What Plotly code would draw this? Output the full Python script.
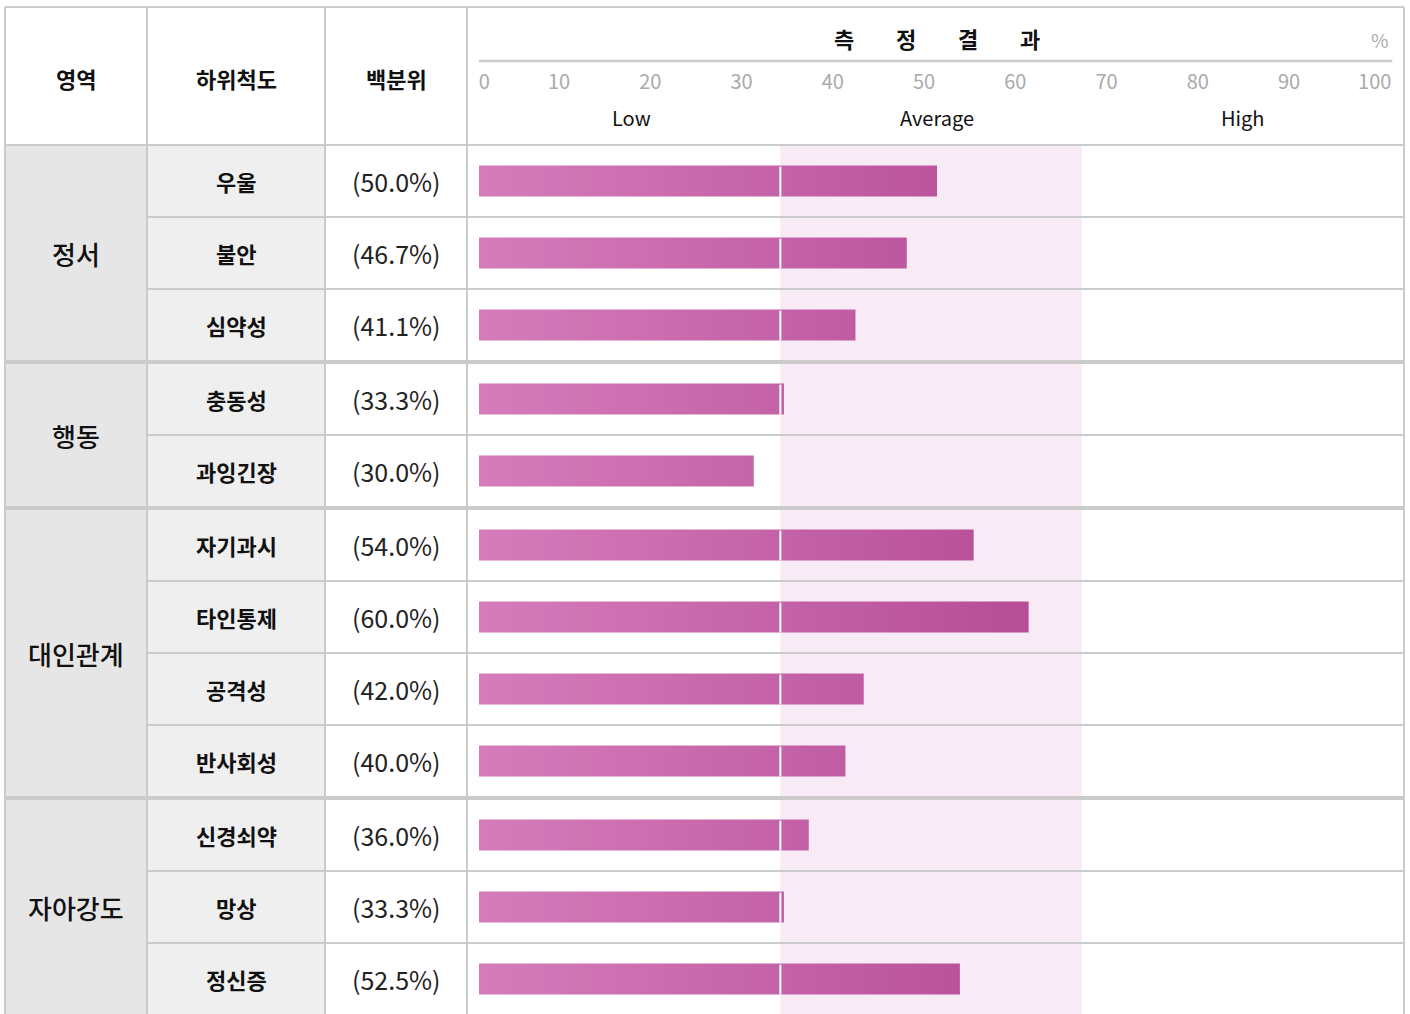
import plotly.graph_objects as go

# ---------------- data ----------------
domains = ["정서", "행동", "대인관계", "자아강도"]
group_sizes = [3, 2, 4, 3]
subscales = ["우울", "불안", "심약성", "충동성", "과잉긴장", "자기과시",
             "타인통제", "공격성", "반사회성", "신경쇠약", "망상", "정신증"]
percentiles = [50.0, 46.7, 41.1, 33.3, 30.0, 54.0, 60.0, 42.0, 40.0, 36.0, 33.3, 52.5]
tick_values = [0, 10, 20, 30, 40, 50, 60, 70, 80, 90, 100]
level_labels = ["Low", "Average", "High"]
level_centers = [100 / 6, 50, 500 / 6]
avg_range = [33, 66]
col_headers = ["영역", "하위척도", "백분위"]
result_title = ["측", "정", "결", "과"]

# ---------------- layout constants (pixels) ----------------
W, H = 1410, 1014
FONT = "Noto Sans CJK KR"
ROW_PX, TOP_PX, GAP_PX = 72, 145, 2
COL_X = [5, 147, 325, 467, 1404]         # column borders
BAR_X0, BAR_X100 = 479, 1395             # 0% and 100% of bar scale
TABLE_TOP = 7
BORDER = "#cbcbcb"
BAR_H = 0.43
FS = "\u2007"  # figure space (digit width) used to align edge tick labels


def px(p):
    return p / W


def py(p):
    return 1 - p / H


# row positions (row units, groups separated by thicker border)
groups = []
for g, n in enumerate(group_sizes):
    groups += [g] * n
gap = GAP_PX / ROW_PX
row_y = [i + groups[i] * gap for i in range(len(subscales))]

y_top = -TOP_PX / ROW_PX - 0.5
y_bot = (H - TOP_PX) / ROW_PX - 0.5

fig = go.Figure()

# bars with a horizontal position-based gradient
bx, by = [], []
for v, yc in zip(percentiles, row_y):
    y0, y1 = yc - BAR_H / 2, yc + BAR_H / 2
    bx += [0, v, v, 0, 0, None]
    by += [y0, y0, y1, y1, y0, None]
fig.add_trace(go.Scatter(
    x=bx, y=by, mode="lines", fill="toself", line=dict(width=0, color="rgba(0,0,0,0)"),
    fillgradient=dict(type="horizontal", start=0, stop=100,
                      colorscale=[[0, "#d57cbb"], [1, "#a22e7e"]]),
    hoverinfo="skip", showlegend=False))

# white separator where bars cross into the average band
sx, sy = [], []
for v, yc in zip(percentiles, row_y):
    if v > avg_range[0]:
        sx += [avg_range[0] - 0.1, avg_range[0] - 0.1, None]
        sy += [yc - BAR_H / 2 + 0.015, yc + BAR_H / 2, None]
fig.add_trace(go.Scatter(x=sx, y=sy, mode="lines", line=dict(color="white", width=2),
                         hoverinfo="skip", showlegend=False))

# dummy trace for the tick-label axis
fig.add_trace(go.Scatter(x=[None], y=[None], xaxis="x2", yaxis="y", showlegend=False,
                         hoverinfo="skip"))

shapes = []
# backgrounds of first two columns
row_area_top = -0.5
shapes.append(dict(type="rect", xref="paper", yref="y", x0=px(COL_X[0]), x1=px(COL_X[1]),
                   y0=row_area_top, y1=y_bot + 1, fillcolor="#e6e6e6", line_width=0, layer="below"))
shapes.append(dict(type="rect", xref="paper", yref="y", x0=px(COL_X[1]), x1=px(COL_X[2]),
                   y0=row_area_top, y1=y_bot + 1, fillcolor="#efefef", line_width=0, layer="below"))
# average band
shapes.append(dict(type="rect", xref="x", yref="y", x0=avg_range[0] - 0.1, x1=avg_range[1] - 0.2,
                   y0=row_area_top, y1=y_bot + 1, fillcolor="#f8ebf6", line_width=0, layer="below"))

# horizontal borders
shapes.append(dict(type="line", xref="paper", yref="paper", x0=px(COL_X[0]), x1=px(COL_X[-1]),
                   y0=py(TABLE_TOP), y1=py(TABLE_TOP), line=dict(color=BORDER, width=2)))
shapes.append(dict(type="line", xref="paper", yref="y", x0=px(COL_X[0]), x1=px(COL_X[-1]),
                   y0=row_area_top, y1=row_area_top, line=dict(color=BORDER, width=2)))
for i in range(1, len(subscales)):
    if groups[i] != groups[i - 1]:
        yb = row_y[i] - 0.5 - gap / 2
        shapes.append(dict(type="line", xref="paper", yref="y", x0=px(COL_X[0]), x1=px(COL_X[-1]),
                           y0=yb, y1=yb, line=dict(color=BORDER, width=4)))
    else:
        yb = row_y[i] - 0.5
        shapes.append(dict(type="line", xref="paper", yref="y", x0=px(COL_X[1]), x1=px(COL_X[-1]),
                           y0=yb, y1=yb, line=dict(color=BORDER, width=2)))
# vertical borders
for cx in COL_X:
    shapes.append(dict(type="line", xref="paper", yref="paper", x0=px(cx), x1=px(cx),
                       y0=py(TABLE_TOP), y1=0, line=dict(color=BORDER, width=2)))
# header underline of result title
shapes.append(dict(type="line", xref="x", yref="paper", x0=0, x1=99.7,
                   y0=py(61), y1=py(61), line=dict(color=BORDER, width=2.5)))


def ann(text, x, y, xref, yref, size, color="#111", weight="normal", xanchor="center"):
    return dict(text=text, x=x, y=y, xref=xref, yref=yref, showarrow=False,
                xanchor=xanchor, yanchor="middle",
                font=dict(family=FONT, size=size, color=color, weight=weight))


annotations = []
col_centers = [(COL_X[k] + COL_X[k + 1]) / 2 for k in range(3)]
for txt, cx in zip(col_headers, col_centers):
    annotations.append(ann(txt, px(cx), py(78), "paper", "paper", 22, weight="bold"))
for k, ch in enumerate(result_title):
    annotations.append(ann(ch, 50 + (k - 1.5) * 6.8, py(38), "x", "paper", 22, weight="bold"))
annotations.append(ann("%", 99.6, py(40), "x", "paper", 19, color="#aaaaaa", xanchor="right"))
for lab, c in zip(level_labels, level_centers):
    annotations.append(ann(lab, c, py(117), "x", "paper", 20))
# group labels
start = 0
for name, n in zip(domains, group_sizes):
    yc = sum(row_y[start:start + n]) / n
    annotations.append(ann(name, px(col_centers[0]), yc, "paper", "y", 26, weight=500))
    start += n
for name, v, yc in zip(subscales, percentiles, row_y):
    annotations.append(ann(name, px(col_centers[1]), yc, "paper", "y", 22, weight="bold"))
    annotations.append(ann(f"({v:.1f}%)", px(col_centers[2]), yc, "paper", "y", 25, color="#222"))

# tick labels: spread evenly, first left-aligned and last right-aligned in the header
tick_text = [str(v) for v in tick_values]
tick_text[0] = FS * 3 + tick_text[0]
tick_text[-1] = tick_text[-1] + FS

lab0, lab_step = 467.75, 9.125
d0, d1 = 440, 1405
fig.update_layout(
    width=W, height=H, margin=dict(l=0, r=0, t=0, b=0),
    paper_bgcolor="white", plot_bgcolor="rgba(0,0,0,0)",
    xaxis=dict(domain=[px(BAR_X0), px(BAR_X100)], range=[0, 100], visible=False, fixedrange=True),
    xaxis2=dict(domain=[px(d0), px(d1)], range=[(d0 - lab0) / lab_step, (d1 - lab0) / lab_step],
                anchor="free", position=py(68), side="bottom", fixedrange=True,
                tickvals=tick_values, ticktext=tick_text, ticks="", ticklen=0,
                showline=False, showgrid=False, zeroline=False,
                tickfont=dict(family=FONT, size=20, color="#aaaaaa")),
    yaxis=dict(domain=[0, 1], range=[y_bot, y_top], visible=False, fixedrange=True),
    shapes=shapes, annotations=annotations, showlegend=False,
)

fig.write_html("out.html", config={"displayModeBar": False},
               post_script="document.body.style.margin='0';")
